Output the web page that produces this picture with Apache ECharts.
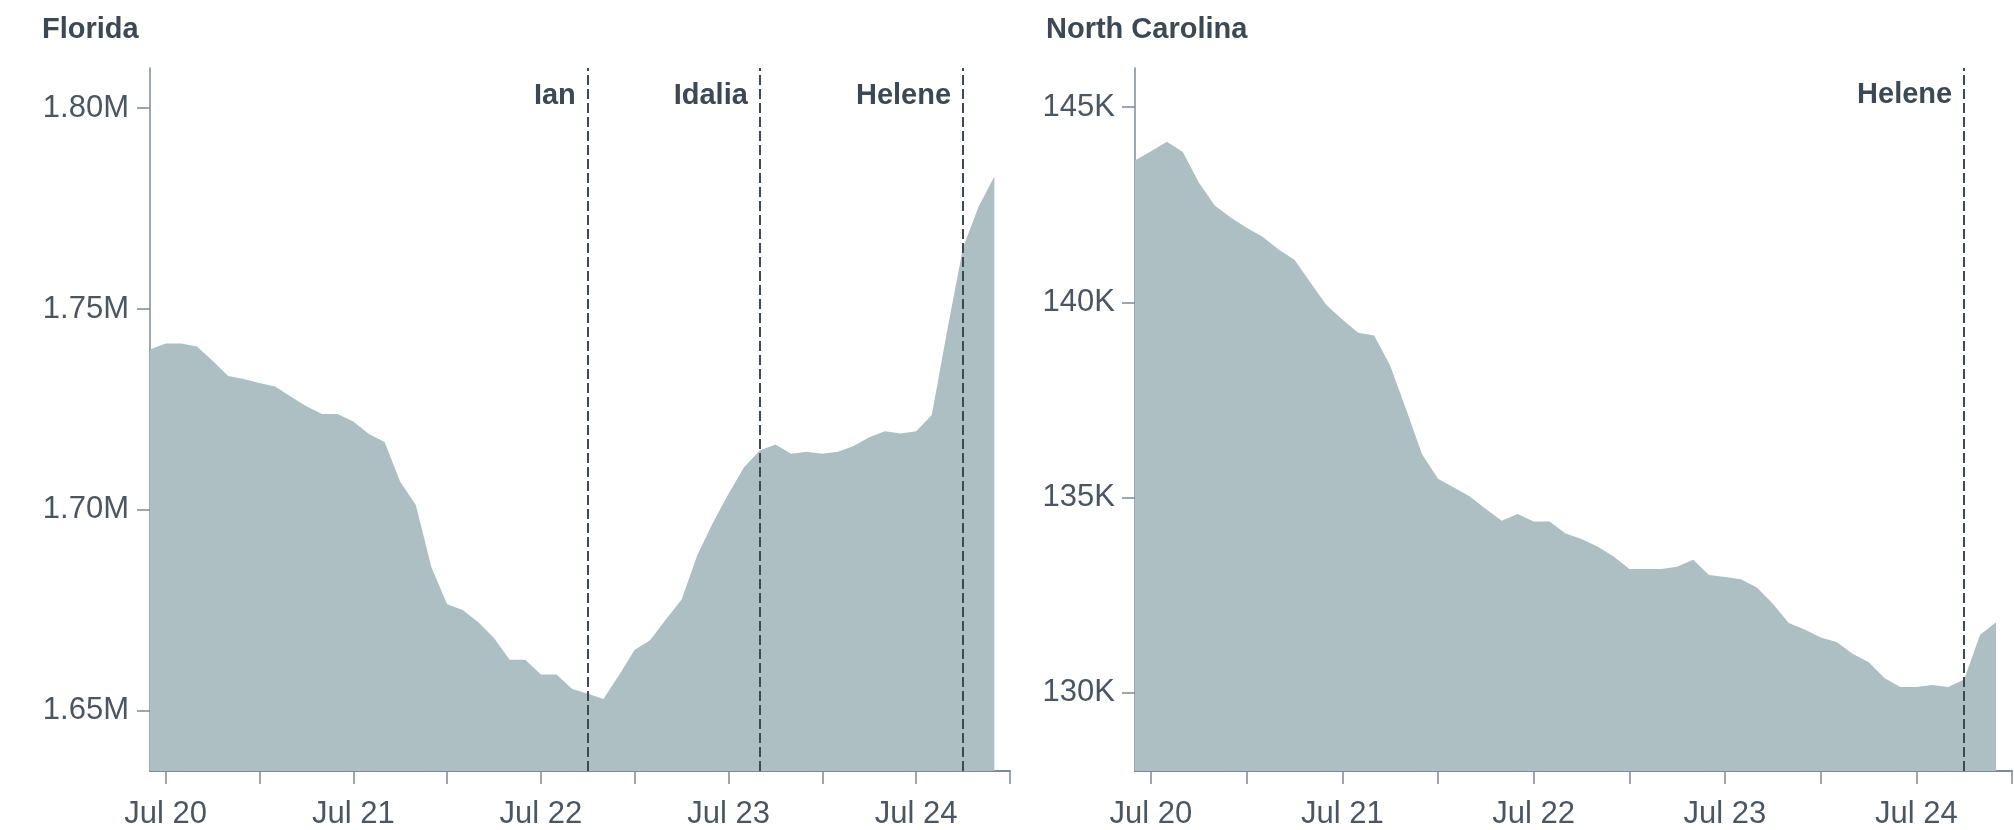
<!DOCTYPE html>
<html>
<head>
<meta charset="utf-8">
<script src="https://cdn.jsdelivr.net/npm/echarts@6/dist/echarts.min.js"></script>
<style>
  html, body { margin: 0; padding: 0; background: #fff; }
  #chart { width: 2014px; height: 830px; }
</style>
</head>
<body>
<div id="chart"></div>
<script>
// monthly points, Jun 2020 .. Dec 2024 (last category only extends the axis)
var months = [
  '2020-06','2020-07','2020-08','2020-09','2020-10','2020-11','2020-12',
  '2021-01','2021-02','2021-03','2021-04','2021-05','2021-06','2021-07','2021-08','2021-09','2021-10','2021-11','2021-12',
  '2022-01','2022-02','2022-03','2022-04','2022-05','2022-06','2022-07','2022-08','2022-09','2022-10','2022-11','2022-12',
  '2023-01','2023-02','2023-03','2023-04','2023-05','2023-06','2023-07','2023-08','2023-09','2023-10','2023-11','2023-12',
  '2024-01','2024-02','2024-03','2024-04','2024-05','2024-06','2024-07','2024-08','2024-09','2024-10','2024-11','2024-12',
  '2025-01'
];

var florida = [
  1739900, 1741400, 1741400, 1740700, 1737100, 1733300, 1732600,
  1731600, 1730700, 1728200, 1725800, 1723900, 1723900, 1722000, 1718900, 1716900, 1707000, 1701200, 1685700,
  1676500, 1675100, 1672000, 1668100, 1662700, 1662700, 1659000, 1659000, 1655400, 1654200, 1652900, 1658900,
  1665200, 1667600, 1672800, 1677700, 1688700, 1696800, 1704000, 1710700, 1714800, 1716300, 1714000, 1714500,
  1714000, 1714500, 1715900, 1718100, 1719600, 1719000, 1719600, 1723600, 1745000, 1765300, 1775600, 1783000
];

var northCarolina = [
  143630, 143870, 144110, 143850, 143070, 142480, 142170,
  141910, 141680, 141350, 141090, 140510, 139930, 139560, 139220, 139150, 138380, 137260, 136110,
  135480, 135260, 135030, 134710, 134410, 134580, 134390, 134390, 134080, 133940, 133750, 133500,
  133170, 133170, 133170, 133230, 133410, 133020, 132970, 132910, 132700, 132280, 131790, 131620,
  131420, 131300, 131000, 130790, 130380, 130150, 130150, 130200, 130150, 130340, 131490, 131810
];

var flTicks = [1650000, 1700000, 1750000, 1800000];
var ncTicks = [130000, 135000, 140000, 145000];

// storms: month of landfall effect, label height on each axis
var flStorms = [['Ian', '2022-10'], ['Idalia', '2023-09'], ['Helene', '2024-10']];
var ncStorms = [['Helene', '2024-10']];
var flLabelY = 1803000;
var ncLabelY = 145300;

var dark = '#3c4853';
var tickText = '#4a5662';
var axisGrey = '#7b8b93';
var fill = '#adbfc3';

function xAxisFor(idx) {
  return {
    type: 'category',
    gridIndex: idx,
    data: months,
    boundaryGap: false,
    axisLine: { show: true, lineStyle: { color: axisGrey, width: 2 } },
    axisTick: {
      show: true, length: 13,
      lineStyle: { color: axisGrey, width: 1.5 },
      interval: function (i, v) { return /-(01|07)$/.test(v); }
    },
    axisLabel: {
      interval: function (i, v) { return /-07$/.test(v); },
      formatter: function (v) { return 'Jul ' + v.slice(2, 4); },
      margin: 28,
      fontSize: 31,
      fontFamily: 'Liberation Sans',
      color: tickText
    },
    splitLine: { show: false }
  };
}

function yAxisFor(idx, min, max, ticks, fmt, margin) {
  return {
    type: 'value',
    gridIndex: idx,
    min: min,
    max: max,
    axisLine: { show: true, lineStyle: { color: axisGrey, width: 1.5 } },
    axisTick: { show: true, length: 13, customValues: ticks, lineStyle: { color: axisGrey, width: 1.5 } },
    axisLabel: {
      customValues: ticks,
      formatter: fmt,
      margin: margin,
      fontSize: 31,
      fontFamily: 'Liberation Sans',
      color: tickText
    },
    splitLine: { show: false }
  };
}

function stormMarks(storms, labelY) {
  return {
    markLine: {
      silent: true,
      symbol: ['none', 'none'],
      label: { show: false },
      lineStyle: { color: '#3d4a56', width: 2, type: [10, 4] },
      data: storms.map(function (s) { return { xAxis: s[1] }; })
    },
    markPoint: {
      silent: true,
      symbol: 'circle',
      symbolSize: 0,
      label: {
        show: true,
        position: 'left',
        distance: 12,
        formatter: '{b}',
        fontSize: 29,
        fontWeight: 'bold',
        fontFamily: 'Liberation Sans',
        color: dark
      },
      data: storms.map(function (s) { return { name: s[0], coord: [s[1], labelY] }; })
    }
  };
}

function areaSeries(idx, data, storms, labelY) {
  var s = {
    type: 'line',
    xAxisIndex: idx,
    yAxisIndex: idx,
    data: data,
    symbol: 'none',
    showSymbol: false,
    lineStyle: { width: 0 },
    areaStyle: { color: fill, opacity: 1, origin: 'start' },
    animation: false
  };
  var m = stormMarks(storms, labelY);
  s.markLine = m.markLine;
  s.markPoint = m.markPoint;
  return s;
}

var chart = echarts.init(document.getElementById('chart'));
chart.setOption({
  backgroundColor: '#fff',
  animation: false,
  title: [
    { text: 'Florida', left: 42, top: 15, padding: 0,
      textStyle: { fontSize: 29, fontWeight: 'bold', fontFamily: 'Liberation Sans', color: dark } },
    { text: 'North Carolina', left: 1046, top: 15, padding: 0,
      textStyle: { fontSize: 29, fontWeight: 'bold', fontFamily: 'Liberation Sans', color: dark } }
  ],
  grid: [
    { left: 150, top: 68, width: 860, height: 705 },
    { left: 1135, top: 68, width: 877, height: 705 }
  ],
  xAxis: [xAxisFor(0), xAxisFor(1)],
  yAxis: [
    yAxisFor(0, 1635000, 1810000, flTicks, function (v) { return (v / 1e6).toFixed(2) + 'M'; }, 21),
    yAxisFor(1, 128000, 146000, ncTicks, function (v) { return Math.round(v / 1000) + 'K'; }, 20)
  ],
  series: [
    areaSeries(0, florida, flStorms, flLabelY),
    areaSeries(1, northCarolina, ncStorms, ncLabelY)
  ]
});
</script>
</body>
</html>
